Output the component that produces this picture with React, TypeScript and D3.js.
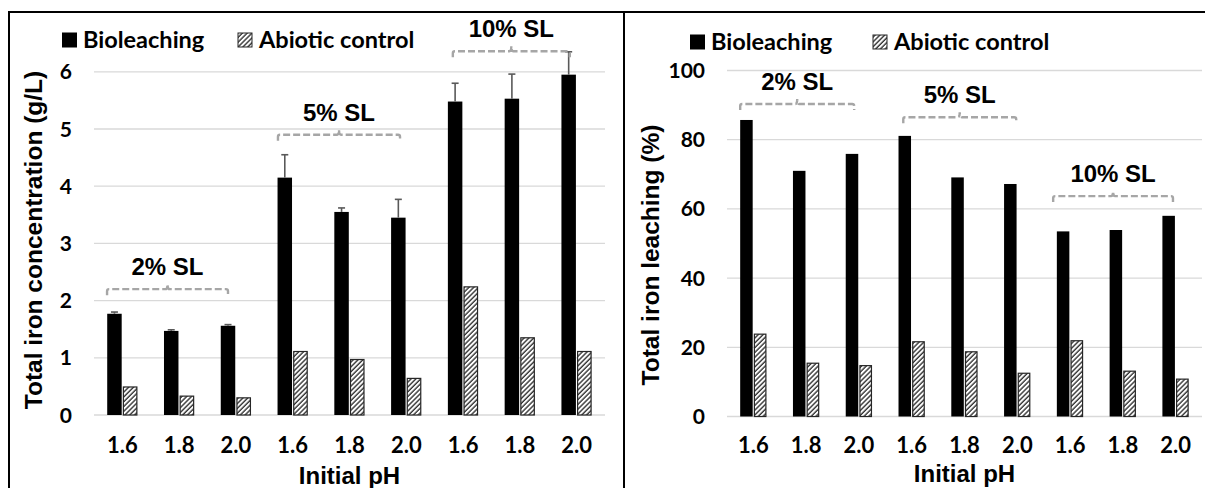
import React, { useEffect, useRef } from "react";
import * as d3 from "d3";

// x categories (initial pH), three solid-loading groups of three
const phLabels = ["1.6", "1.8", "2.0", "1.6", "1.8", "2.0", "1.6", "1.8", "2.0"];
const slLabels = ["2% SL", "5% SL", "10% SL"];
const slFirst = [0, 3, 6];

// left panel: total iron concentration (g/L)
const concBio = [1.77, 1.47, 1.56, 4.15, 3.55, 3.45, 5.48, 5.53, 5.95];
const concBioErr = [0.03, 0.02, 0.02, 0.4, 0.07, 0.32, 0.32, 0.43, 0.4];
const concAbiotic = [0.49, 0.33, 0.3, 1.11, 0.97, 0.64, 2.24, 1.35, 1.11];
const concTicks = [0, 1, 2, 3, 4, 5, 6];
const concBracketLevel = [2.2, 4.9, 6.36];

// right panel: total iron leaching (%)
const leachBio = [85.7, 71.0, 75.9, 81.1, 69.1, 67.2, 53.5, 53.9, 58.0];
const leachAbiotic = [23.8, 15.4, 14.7, 21.6, 18.7, 12.5, 21.9, 13.1, 10.8];
const leachTicks = [0, 20, 40, 60, 80, 100];
const leachBracketLevel = [90.3, 86.5, 63.7];

const W = 1205;
const H = 488;
const ARIAL = '"Liberation Sans", Arial, sans-serif';
const CALIBRI = 'Lato, "Open Sans", sans-serif';

function drawPanel(svg, cfg) {
  const g = svg.append("g");
  const idx = phLabels.map((_, i) => i);

  const x = d3.scaleBand().domain(idx).range([cfg.left, cfg.right]);
  const bw = x.bandwidth();
  const barW = bw * cfg.barFrac;
  const y = d3
    .scaleLinear()
    .domain([0, d3.max(cfg.ticks)])
    .range([cfg.bottom, cfg.top]);

  // gridlines
  g.append("g")
    .selectAll("line")
    .data(cfg.ticks)
    .join("line")
    .attr("x1", cfg.left)
    .attr("x2", cfg.right)
    .attr("y1", d => y(d))
    .attr("y2", d => y(d))
    .attr("stroke", "#d9d9d9")
    .attr("stroke-width", 1.3);

  // y tick labels
  g.append("g")
    .selectAll("text")
    .data(cfg.ticks)
    .join("text")
    .attr("x", cfg.tickX)
    .attr("y", d => y(d))
    .attr("dy", "0.36em")
    .attr("text-anchor", "end")
    .attr("font-family", CALIBRI)
    .attr("font-weight", "bold")
    .attr("font-size", 21)
    .text(d => d);

  // x tick labels
  g.append("g")
    .selectAll("text")
    .data(idx)
    .join("text")
    .attr("x", d => x(d) + bw / 2)
    .attr("y", 445)
    .attr("dy", "0.36em")
    .attr("text-anchor", "middle")
    .attr("font-family", CALIBRI)
    .attr("font-weight", "bold")
    .attr("font-size", 22)
    .text(d => phLabels[d]);

  // bars
  g.append("g")
    .selectAll("rect")
    .data(idx)
    .join("rect")
    .attr("x", d => x(d) + bw / 2 - barW - 0.7)
    .attr("y", d => y(cfg.bio[d]))
    .attr("width", barW)
    .attr("height", d => y(0) - y(cfg.bio[d]))
    .attr("fill", "#000");

  g.append("g")
    .selectAll("rect")
    .data(idx)
    .join("rect")
    .attr("x", d => x(d) + bw / 2 + 1)
    .attr("y", d => y(cfg.abiotic[d]))
    .attr("width", barW - 1)
    .attr("height", d => y(0) - y(cfg.abiotic[d]))
    .attr("fill", "url(#hatch)")
    .attr("stroke", "#262626")
    .attr("stroke-width", 1.2);

  // error bars (upper only)
  if (cfg.err) {
    const eb = g
      .append("g")
      .attr("stroke", "#595959")
      .attr("stroke-width", 1.6)
      .selectAll("g")
      .data(idx)
      .join("g");
    const cx = d => x(d) + bw / 2 - barW / 2 - 0.7;
    eb.append("line")
      .attr("x1", cx)
      .attr("x2", cx)
      .attr("y1", d => y(cfg.bio[d]))
      .attr("y2", d => y(cfg.bio[d] + cfg.err[d]));
    eb.append("line")
      .attr("x1", d => cx(d) - 3.5)
      .attr("x2", d => cx(d) + 3.5)
      .attr("y1", d => y(cfg.bio[d] + cfg.err[d]))
      .attr("y2", d => y(cfg.bio[d] + cfg.err[d]));
  }

  // group brackets
  const br = g
    .append("g")
    .selectAll("g")
    .data(slLabels.map((label, i) => ({ label, i })))
    .join("g");
  const bx0 = d => x(slFirst[d.i]) + cfg.bracketFrac[d.i][0] * bw;
  const bx1 = d => x(slFirst[d.i] + 2) + cfg.bracketFrac[d.i][1] * bw;
  br.append("path")
    .attr("d", d => {
      const x0 = bx0(d);
      const x1 = bx1(d);
      const xm = (x0 + x1) / 2;
      const yy = y(cfg.bracketLevel[d.i]);
      return `M${x0},${yy + 6} L${x0},${yy + 2} Q${x0},${yy} ${x0 + 2},${yy} L${xm - 2},${yy} Q${xm},${yy} ${xm},${yy - 5} Q${xm},${yy} ${xm + 2},${yy} L${x1 - 2},${yy} Q${x1},${yy} ${x1},${yy + 2} L${x1},${yy + 6}`;
    })
    .attr("fill", "none")
    .attr("stroke", "#a6a6a6")
    .attr("stroke-width", 2.4)
    .attr("stroke-dasharray", "7,3");
  br.append("text")
    .attr("x", d => (bx0(d) + bx1(d)) / 2)
    .attr("y", d => y(cfg.bracketLevel[d.i]) - 14)
    .attr("text-anchor", "middle")
    .attr("font-family", ARIAL)
    .attr("font-weight", "bold")
    .attr("font-size", 24)
    .text(d => d.label);

  // axis titles
  g.append("text")
    .attr("transform", `translate(${cfg.titleX},${cfg.titleY}) rotate(-90)`)
    .attr("dy", "0.36em")
    .attr("text-anchor", "middle")
    .attr("font-family", ARIAL)
    .attr("font-weight", "bold")
    .attr("font-size", 24.5)
    .text(cfg.yTitle);

  g.append("text")
    .attr("x", (cfg.left + cfg.right) / 2)
    .attr("y", cfg.xTitleY)
    .attr("text-anchor", "middle")
    .attr("font-family", ARIAL)
    .attr("font-weight", "bold")
    .attr("font-size", 24)
    .text("Initial pH");

  // legend
  const lg = g.append("g").attr("font-family", CALIBRI).attr("font-weight", "bold").attr("font-size", 23.5);
  lg.append("rect")
    .attr("x", cfg.legendX[0])
    .attr("y", cfg.legendY - 7.5)
    .attr("width", 15)
    .attr("height", 15)
    .attr("fill", "#000");
  lg.append("text")
    .attr("x", cfg.legendX[0] + 21)
    .attr("y", cfg.legendY)
    .attr("dy", "0.36em")
    .text("Bioleaching");
  lg.append("rect")
    .attr("x", cfg.legendX[1])
    .attr("y", cfg.legendY - 7)
    .attr("width", 14)
    .attr("height", 14)
    .attr("fill", "url(#hatch)")
    .attr("stroke", "#262626")
    .attr("stroke-width", 1);
  lg.append("text")
    .attr("x", cfg.legendX[1] + 21)
    .attr("y", cfg.legendY)
    .attr("dy", "0.36em")
    .text("Abiotic control");
}

export default function App() {
  const ref = useRef(null);

  useEffect(() => {
    const svg = d3.select(ref.current);

    svg
      .append("defs")
      .append("pattern")
      .attr("id", "hatch")
      .attr("patternUnits", "userSpaceOnUse")
      .attr("width", 3.4)
      .attr("height", 3.4)
      .attr("patternTransform", "rotate(45)")
      .call(p => p.append("rect").attr("width", 3.4).attr("height", 3.4).attr("fill", "#fff"))
      .call(p =>
        p
          .append("line")
          .attr("x1", 1)
          .attr("x2", 1)
          .attr("y1", 0)
          .attr("y2", 3.4)
          .attr("stroke", "#333")
          .attr("stroke-width", 1.4)
      );

    svg.append("rect").attr("width", W).attr("height", H).attr("fill", "#fff");

    drawPanel(svg, {
      left: 94,
      right: 605,
      top: 71.8,
      bottom: 415,
      barFrac: 0.255,
      ticks: concTicks,
      bio: concBio,
      abiotic: concAbiotic,
      err: concBioErr,
      bracketLevel: concBracketLevel,
      bracketFrac: [
        [0.23, 0.36],
        [0.24, 0.39],
        [0.32, 0.38]
      ],
      tickX: 72,
      titleX: 33,
      titleY: 240,
      yTitle: "Total iron concentration (g/L)",
      xTitleY: 484,
      legendX: [62, 238],
      legendY: 40
    });

    drawPanel(svg, {
      left: 727,
      right: 1202,
      top: 70.5,
      bottom: 416.5,
      barFrac: 0.237,
      ticks: leachTicks,
      bio: leachBio,
      abiotic: leachAbiotic,
      err: null,
      bracketLevel: leachBracketLevel,
      bracketFrac: [
        [0.25, 0.41],
        [0.34, 0.48],
        [0.18, 0.45]
      ],
      tickX: 705,
      titleX: 650,
      titleY: 255,
      yTitle: "Total iron leaching (%)",
      xTitleY: 482,
      legendX: [690, 873],
      legendY: 42
    });

    // figure frame
    svg
      .append("path")
      .attr("d", `M9,${H} L9,12 L${W},12 M624,12 L624,${H}`)
      .attr("fill", "none")
      .attr("stroke", "#000")
      .attr("stroke-width", 2);

    return () => {
      svg.html("");
    };
  }, []);

  return (
    <svg
      ref={ref}
      width={W}
      height={H}
      style={{ position: "absolute", left: 0, top: 0 }}
    />
  );
}
